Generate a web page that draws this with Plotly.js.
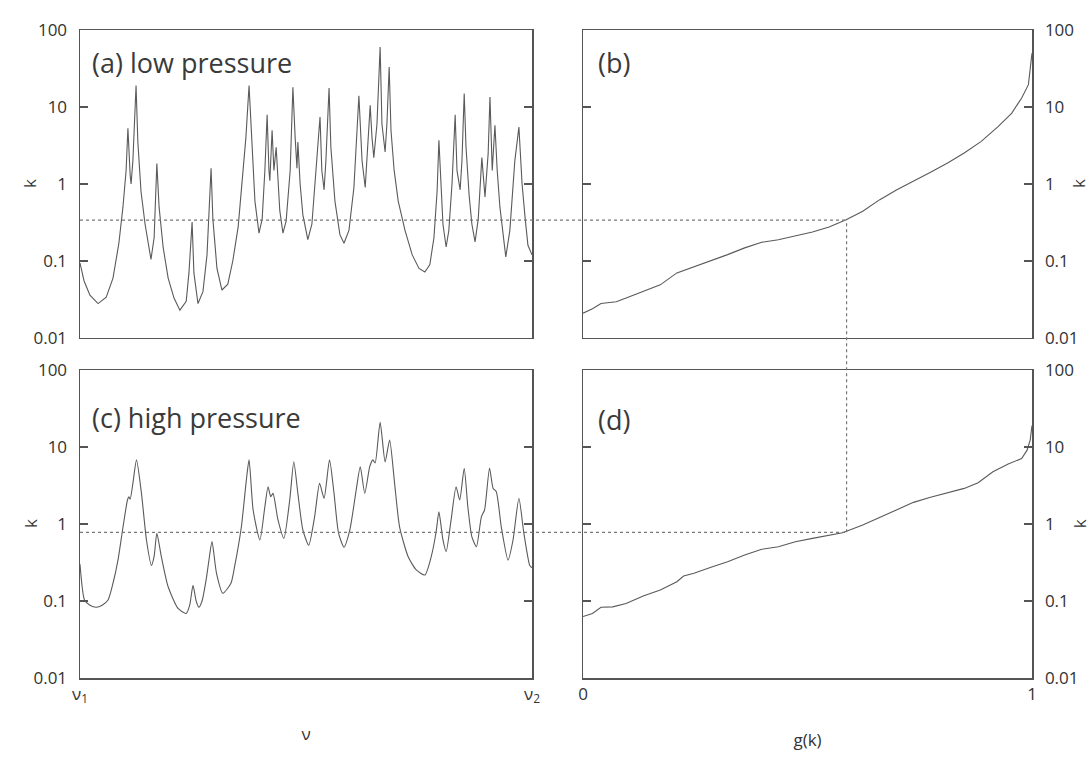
<!DOCTYPE html>
<html>
<head>
<meta charset="utf-8">
<script src="https://cdn.plot.ly/plotly-3.0.1.min.js"></script>
<style>html,body{margin:0;padding:0;background:#fff;}#chart{width:1092px;height:767px;}</style>
</head>
<body>
<div id="chart"></div>
<script>
// Panel (a): low pressure spectrum k(nu), nu scaled 0 (nu1) .. 1 (nu2)
var nuLow = [0.000,0.009,0.022,0.040,0.058,0.073,0.086,0.095,0.102,0.106,0.111,0.113,0.117,0.124,0.128,0.135,0.144,0.153,0.157,0.164,0.170,0.175,0.184,0.195,0.208,0.221,0.235,0.241,0.248,0.252,0.261,0.272,0.281,0.290,0.294,0.303,0.314,0.327,0.338,0.350,0.358,0.367,0.374,0.381,0.387,0.396,0.403,0.409,0.414,0.418,0.420,0.425,0.429,0.434,0.438,0.442,0.449,0.456,0.465,0.471,0.476,0.480,0.482,0.487,0.493,0.504,0.513,0.522,0.527,0.531,0.535,0.540,0.544,0.551,0.555,0.564,0.575,0.584,0.595,0.606,0.617,0.624,0.631,0.635,0.642,0.646,0.650,0.657,0.664,0.668,0.675,0.679,0.684,0.688,0.695,0.704,0.719,0.735,0.750,0.763,0.774,0.783,0.790,0.794,0.799,0.803,0.810,0.816,0.823,0.830,0.834,0.841,0.845,0.850,0.854,0.861,0.867,0.874,0.881,0.889,0.896,0.903,0.907,0.912,0.918,0.923,0.929,0.936,0.942,0.951,0.958,0.962,0.971,0.978,0.985,0.991,1.000];
var kLow = [0.094,0.055,0.036,0.028,0.034,0.06,0.17,0.5,1.5,5.3,1.3,1.0,2.0,19,3.5,0.8,0.3,0.14,0.105,0.2,1.85,0.5,0.15,0.06,0.033,0.023,0.03,0.07,0.32,0.07,0.028,0.04,0.12,1.6,0.35,0.08,0.042,0.05,0.1,0.28,1.0,4,19,2.5,0.6,0.23,0.35,1.5,7.9,1.5,1.1,5.0,1.5,3.0,1.0,0.45,0.23,0.33,1.5,18,4,1.6,3.5,1.0,0.4,0.19,0.3,1.5,4.5,7.4,1.5,0.84,2,17.6,3,0.6,0.22,0.17,0.25,0.9,14,2,0.9,2.5,10.5,4,2.2,6,60,6,2.6,6,33,5,1.5,0.6,0.25,0.12,0.08,0.072,0.09,0.2,0.8,3.7,0.8,0.3,0.152,0.25,1.0,7.9,1.5,0.84,2,15,3,0.7,0.3,0.177,0.35,2.2,0.68,2.5,13.5,1.5,5.8,1.5,0.5,0.2,0.113,0.25,1.0,2.0,5.5,1.0,0.35,0.16,0.12];

// Panel (c): high pressure spectrum
var nuHigh = [0.000,0.010,0.022,0.036,0.049,0.062,0.073,0.084,0.095,0.105,0.108,0.111,0.117,0.125,0.136,0.147,0.158,0.164,0.170,0.180,0.195,0.217,0.235,0.243,0.250,0.257,0.263,0.270,0.279,0.285,0.292,0.302,0.316,0.334,0.342,0.357,0.368,0.374,0.383,0.398,0.409,0.416,0.422,0.427,0.438,0.451,0.464,0.473,0.482,0.493,0.506,0.519,0.530,0.540,0.552,0.562,0.572,0.584,0.597,0.611,0.620,0.630,0.641,0.648,0.653,0.664,0.675,0.685,0.696,0.707,0.726,0.744,0.763,0.777,0.788,0.794,0.803,0.810,0.821,0.832,0.840,0.850,0.858,0.867,0.877,0.888,0.895,0.906,0.914,0.921,0.932,0.947,0.958,0.971,0.982,0.995,1.000];
var kHigh = [0.3,0.103,0.088,0.083,0.088,0.103,0.17,0.34,0.9,2.05,2.25,2.1,3.37,6.8,2.5,0.62,0.29,0.38,0.76,0.376,0.153,0.08,0.069,0.09,0.16,0.1,0.083,0.1,0.188,0.33,0.59,0.229,0.126,0.17,0.279,0.92,3.72,6.8,1.52,0.62,1.68,3.05,2.26,2.5,1.13,0.65,2.05,6.43,2.5,0.84,0.53,1.24,3.37,2.16,6.8,2.5,0.76,0.5,0.84,2.76,5.55,2.5,5.55,6.8,6.2,21,6.4,12.3,3.37,0.92,0.376,0.253,0.218,0.376,0.8,1.44,0.62,0.437,1.13,3.05,2.05,5.3,1.68,0.68,0.507,1.24,1.52,5.3,2.9,2.63,0.92,0.34,0.62,2.16,0.76,0.29,0.27];

// Panel (b): k-distribution, low pressure
var gLow = [0,0.021,0.04,0.074,0.096,0.134,0.172,0.209,0.247,0.285,0.322,0.36,0.398,0.435,0.473,0.511,0.548,0.586,0.623,0.661,0.699,0.736,0.774,0.812,0.849,0.887,0.925,0.955,0.977,0.992,1.0];
var kSortLow = [0.021,0.024,0.028,0.0296,0.033,0.040,0.049,0.070,0.084,0.102,0.121,0.148,0.175,0.189,0.213,0.238,0.277,0.344,0.442,0.626,0.844,1.08,1.42,1.87,2.53,3.58,5.6,8.35,13.1,19.5,50];

// Panel (d): k-distribution, high pressure
var gHigh = [0,0.021,0.04,0.066,0.096,0.134,0.172,0.209,0.224,0.247,0.285,0.322,0.36,0.398,0.435,0.473,0.511,0.548,0.578,0.623,0.661,0.699,0.736,0.774,0.812,0.849,0.88,0.913,0.947,0.977,0.989,0.996,1];
var kSortHigh = [0.063,0.069,0.083,0.084,0.093,0.116,0.139,0.178,0.211,0.229,0.274,0.324,0.396,0.469,0.507,0.589,0.651,0.72,0.77,0.97,1.22,1.52,1.91,2.22,2.55,2.9,3.44,4.77,6.0,7.1,9.1,12.3,19];

// Reference (dotted) values
var kRefLow = 0.34;
var kRefHigh = 0.78;
var gRef = 0.587;

var kTickVals = [0.01, 0.1, 1, 10, 100];
var kTickText = ['0.01', '0.1', '1', '10', '100'];
var nuTickText = ['ν<sub>1</sub>', 'ν<sub>2</sub>'];
var gTickText = ['0', '1'];
var panelLabels = ['(a) low pressure', '(b)', '(c) high pressure', '(d)'];

var FONT = '"Open Sans", "Noto Sans", sans-serif';
var TXT = '#333333';
var LINE = '#555555';
var CURVE = '#5a5a5a';

var domLeft = [0, 0.4748], domRight = [0.5284, 1];
var domTop = [0.5247, 1], domBot = [0, 0.4753];

function traceOf(x, y, xa, ya, shape) {
  var ln = {color: CURVE, width: 1.1};
  if (shape) { ln.shape = 'spline'; ln.smoothing = 0.6; }
  return {x: x, y: y, xaxis: xa, yaxis: ya, type: 'scatter', mode: 'lines',
    line: ln, hoverinfo: 'skip', showlegend: false};
}
var data = [
  traceOf(nuLow, kLow, 'x', 'y'),
  traceOf(gLow, kSortLow, 'x2', 'y2'),
  traceOf(nuHigh, kHigh, 'x3', 'y3', true),
  traceOf(gHigh, kSortHigh, 'x4', 'y4')
];

function xAxis(dom, anchor, show, tt) {
  var a = {domain: dom, anchor: anchor, range: [0, 1], showgrid: false, zeroline: false,
    showline: true, linecolor: LINE, linewidth: 1.5, mirror: true, ticks: '',
    showticklabels: show, fixedrange: true,
    tickfont: {family: FONT, size: 17, color: TXT}};
  if (show) { a.tickmode = 'array'; a.tickvals = [0, 1]; a.ticktext = tt; }
  return a;
}
function yAxis(dom, anchor, side, show) {
  return {domain: dom, anchor: anchor, side: side, type: 'log', range: [-2, 2],
    showgrid: false, zeroline: false, showline: true, linecolor: LINE, linewidth: 1.5,
    mirror: 'ticks', ticks: 'inside', ticklen: 8, tickwidth: 1.2, tickcolor: LINE,
    tickmode: 'array', tickvals: kTickVals, ticktext: kTickText,
    showticklabels: show, ticklabelstandoff: 8, fixedrange: true,
    tickfont: {family: FONT, size: 17, color: TXT}};
}

var layout = {
  width: 1092, height: 767,
  margin: {l: 80, r: 60, t: 30, b: 89},
  paper_bgcolor: '#ffffff', plot_bgcolor: '#ffffff',
  font: {family: FONT, color: TXT},
  showlegend: false,
  xaxis: xAxis(domLeft, 'y', false),
  yaxis: yAxis(domTop, 'x', 'left', true),
  xaxis2: xAxis(domRight, 'y2', false),
  yaxis2: yAxis(domTop, 'x2', 'right', true),
  xaxis3: xAxis(domLeft, 'y3', true, nuTickText),
  yaxis3: yAxis(domBot, 'x3', 'left', true),
  xaxis4: xAxis(domRight, 'y4', true, gTickText),
  yaxis4: yAxis(domBot, 'x4', 'right', true)
};
layout.xaxis3.title = {text: 'ν', standoff: 22, font: {family: FONT, size: 17, color: TXT}};
layout.xaxis4.title = {text: 'g(k)', standoff: 30, font: {family: FONT, size: 17, color: TXT}};

function paperY(dom, k) { return dom[0] + (Math.log10(k) + 2) / 4 * (dom[1] - dom[0]); }
var gPaper = domRight[0] + gRef * (domRight[1] - domRight[0]);
var dotLine = {color: '#777777', width: 1.2, dash: 'dot'};
layout.shapes = [
  {type: 'line', xref: 'paper', yref: 'y', x0: 0, x1: gPaper, y0: kRefLow, y1: kRefLow, line: dotLine},
  {type: 'line', xref: 'paper', yref: 'y3', x0: 0, x1: gPaper, y0: kRefHigh, y1: kRefHigh, line: dotLine},
  {type: 'line', xref: 'x2', yref: 'paper', x0: gRef, x1: gRef,
    y0: paperY(domBot, kRefHigh), y1: paperY(domTop, kRefLow), line: dotLine}
];

var labXref = ['x domain', 'x2 domain', 'x3 domain', 'x4 domain'];
var labYref = ['y domain', 'y2 domain', 'y3 domain', 'y4 domain'];
var labX = [0.022, 0.029, 0.022, 0.029];
var labY = [0.893, 0.893, 0.847, 0.84];
layout.annotations = panelLabels.map(function (t, i) {
  return {text: t, xref: labXref[i], yref: labYref[i], x: labX[i], y: labY[i],
    xanchor: 'left', yanchor: 'middle', showarrow: false,
    font: {family: FONT, size: 27, color: '#3a3a3a'}};
});
// axis titles "k" on both sides of each row
[['y domain', -0.0525], ['y3 domain', -0.0525], ['y2 domain', 1.0495], ['y4 domain', 1.0495]].forEach(function (p) {
  layout.annotations.push({text: 'k', xref: 'paper', yref: p[0], x: p[1], y: 0.5,
    xanchor: 'center', yanchor: 'middle', textangle: -90, showarrow: false,
    font: {family: FONT, size: 17, color: TXT}});
});

Plotly.newPlot('chart', data, layout, {staticPlot: true, displayModeBar: false});
</script>
</body>
</html>
